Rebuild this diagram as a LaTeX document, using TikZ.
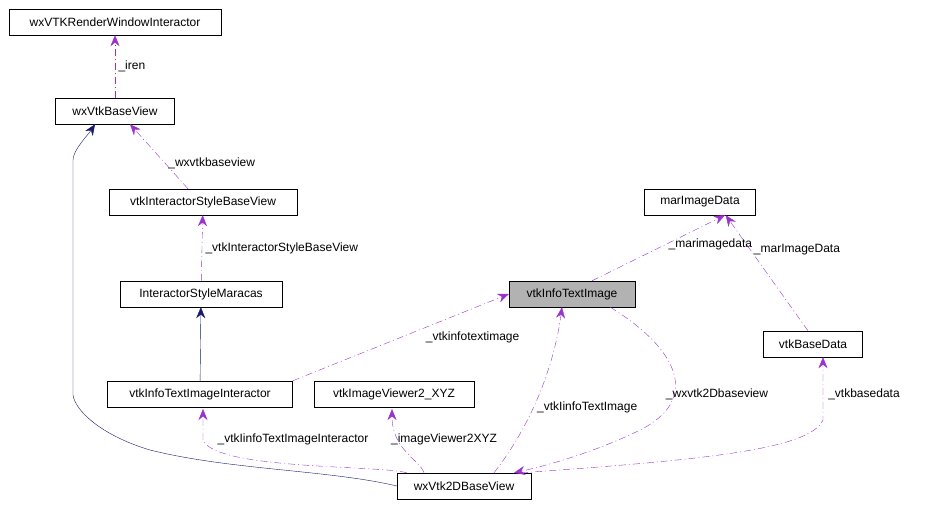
\documentclass[tikz,border=0pt]{standalone}
\usepackage{fontspec}
\setmainfont{Liberation Sans}
\usetikzlibrary{arrows.meta}
\definecolor{usecol}{HTML}{9A32CD}
\definecolor{isacol}{HTML}{191970}
\tikzset{
  cls/.style={draw=black,fill=white,font=\fontsize{12}{14}\selectfont,inner sep=0pt,minimum height=26pt},
  uses/.style={draw=usecol,dash pattern=on 7pt off 3pt on 1pt off 3pt,-{Stealth[length=11pt,width=9pt,fill=usecol]}},
  isa/.style={draw=isacol,-{Stealth[length=11pt,width=9pt,fill=isacol]}},
  lab/.style={font=\fontsize{12}{14}\selectfont}
}
\begin{document}
\begin{tikzpicture}[x=1pt,y=-1pt]
\useasboundingbox (0,0) rectangle (951,506);
% classes
\node[cls,minimum width=212pt] (rwi) at (115,22) {wxVTKRenderWindowInteractor};
\node[cls,minimum width=119pt] (base) at (115,111) {wxVtkBaseView};
\node[cls,minimum width=188pt] (isbv) at (203,202) {vtkInteractorStyleBaseView};
\node[cls,minimum width=162pt] (ism) at (201,294) {InteractorStyleMaracas};
\node[cls,minimum width=185pt] (itii) at (200,394) {vtkInfoTextImageInteractor};
\node[cls,minimum width=160pt] (xyz) at (394,394) {vtkImageViewer2\_XYZ};
\node[cls,minimum width=134pt] (v2d) at (464,486) {wxVtk2DBaseView};
\node[cls,minimum width=126pt,fill=black!30] (iti) at (572,294) {vtkInfoTextImage};
\node[cls,minimum width=111pt] (mid) at (700,202) {marImageData};
\node[cls,minimum width=99pt] (bd) at (813,344) {vtkBaseData};
% inheritance
\draw[isa] (itii) -- (ism);
\draw[isa] (v2d.west) .. controls (330,470) and (230,470) .. (150,450)
  .. controls (100,435) and (75,410) .. (73,395) -- (73,160)
  .. controls (73,150) and (88,135) .. ([xshift=-20pt]base.south);
% usage
\draw[uses] (base) -- node[lab,right]{\_iren} (rwi);
\draw[uses] (isbv.north) ++(-15,0) -- node[lab,right,pos=0.4]{\_wxvtkbaseview} ([xshift=15pt]base.south);
\draw[uses] (ism) -- node[lab,right]{\_vtkInteractorStyleBaseView} (isbv);
\draw[uses] (itii.north east) -- node[lab,below right,pos=0.6]{\_vtkinfotextimage} (iti.west);
\draw[uses] ([xshift=20pt]iti.north) -- node[lab,right,pos=0.55]{\_marimagedata} ([xshift=25pt]mid.south);
\draw[uses] ([xshift=-5pt]bd.north) -- node[lab,right,pos=0.7]{\_marImageData} ([xshift=-30pt]mid.south east);
\draw[uses] ([xshift=30pt]v2d.north) .. controls (535,420) and (555,360) .. node[lab,right,pos=0.4]{\_vtkIinfoTextImage} ([xshift=-10pt]iti.south);
\draw[uses] ([xshift=-25pt]iti.south east) .. controls (680,350) and (700,400) .. (640,430)
  .. controls (600,450) and (550,465) .. ([xshift=50pt]v2d.north);
\node[lab] (lw) at (717,394) {\_wxvtk2Dbaseview};
\draw[uses] ([xshift=10pt]v2d.north west) .. controls (380,465) and (215,470) .. (203,440) -- (203,409);
\node[lab] (lii) at (293,439) {\_vtkIinfoTextImageInteractor};
\draw[uses] ([xshift=-40pt]v2d.north) .. controls (420,460) and (392,450) .. (392,409);
\node[lab] (lxyz) at (444,439) {\_imageViewer2XYZ};
\draw[uses] ([xshift=-10pt]v2d.north east) .. controls (700,460) and (810,450) .. (823,420) -- ([xshift=10pt]bd.south);
\node[lab] (lbd) at (864,394) {\_vtkbasedata};
\end{tikzpicture}
\end{document}
